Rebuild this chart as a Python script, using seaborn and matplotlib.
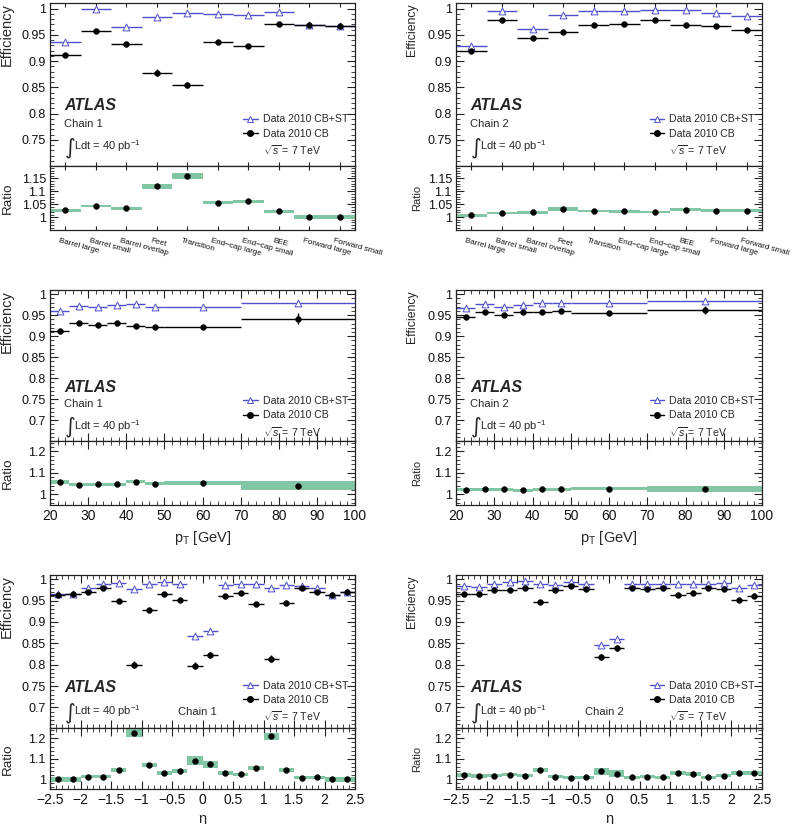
import numpy as np
import matplotlib
matplotlib.use("Agg")
import matplotlib.pyplot as plt
from matplotlib.ticker import MultipleLocator, FuncFormatter, FixedLocator, NullLocator
from matplotlib.lines import Line2D
from matplotlib.transforms import ScaledTranslation
import seaborn as sns

sns.set_theme(style="ticks")
plt.rcParams['font.family'] = ['Liberation Sans', 'DejaVu Sans']
plt.rcParams['mathtext.fontset'] = 'custom'
plt.rcParams['mathtext.rm'] = 'Liberation Sans'
plt.rcParams['mathtext.it'] = 'Liberation Sans:italic'
plt.rcParams['mathtext.bf'] = 'Liberation Sans:bold'

BLUE = "#5050cc"
GREEN = "#82c6a6"

# ---------------- data: detector regions ----------------
regions = ["Barrel large", "Barrel small", "Barrel overlap", "Feet", "Transition",
           "End\u2212cap large", "End\u2212cap small", "BEE", "Forward large", "Forward small"]
reg_pos = [0, 1, 2, 3, 4, 5, 6, 7, 8, 9]
reg_halfw = [0.5] * 10

reg_c1_cb = [0.912, 0.957, 0.932, 0.878, 0.854, 0.936, 0.928, 0.970, 0.968, 0.966]
reg_c1_cb_err = [0.003, 0.002, 0.002, 0.007, 0.006, 0.003, 0.002, 0.004, 0.003, 0.003]
reg_c1_cbst = [0.937, 0.999, 0.964, 0.984, 0.992, 0.990, 0.987, 0.993, 0.968, 0.966]
reg_c1_ratio = [1.027, 1.043, 1.034, 1.119, 1.159, 1.056, 1.062, 1.023, 1.0, 1.0]
reg_c1_band = [0.005, 0.005, 0.006, 0.011, 0.013, 0.005, 0.005, 0.007, 0.007, 0.007]

reg_c2_cb = [0.920, 0.979, 0.944, 0.955, 0.969, 0.970, 0.978, 0.968, 0.967, 0.960]
reg_c2_cb_err = [0.003, 0.002, 0.002, 0.002, 0.002, 0.002, 0.002, 0.003, 0.002, 0.002]
reg_c2_cbst = [0.928, 0.995, 0.961, 0.987, 0.995, 0.995, 0.997, 0.997, 0.991, 0.985]
reg_c2_ratio = [1.008, 1.017, 1.020, 1.032, 1.025, 1.023, 1.020, 1.030, 1.025, 1.026]
reg_c2_band = [0.006, 0.005, 0.006, 0.006, 0.005, 0.005, 0.005, 0.007, 0.006, 0.006]

# ---------------- data: pT ----------------
pt_centers = [22.5, 27.5, 32.5, 37.5, 42.5, 47.5, 60.0, 85.0]
pt_halfw = [2.5, 2.5, 2.5, 2.5, 2.5, 2.5, 10.0, 15.0]

pt_c1_cb = [0.912, 0.932, 0.927, 0.932, 0.924, 0.923, 0.922, 0.942]
pt_c1_cb_err = [0.004, 0.003, 0.003, 0.003, 0.003, 0.003, 0.003, 0.013]
pt_c1_cbst = [0.961, 0.973, 0.969, 0.974, 0.977, 0.969, 0.969, 0.980]
pt_c1_ratio = [1.058, 1.046, 1.047, 1.047, 1.058, 1.050, 1.053, 1.041]
pt_c1_band = [0.011, 0.007, 0.007, 0.007, 0.007, 0.007, 0.008, 0.020]

pt_c2_cb = [0.946, 0.957, 0.950, 0.958, 0.958, 0.959, 0.955, 0.962]
pt_c2_cb_err = [0.003, 0.002, 0.002, 0.002, 0.002, 0.002, 0.002, 0.010]
pt_c2_cbst = [0.966, 0.977, 0.969, 0.974, 0.978, 0.978, 0.978, 0.984]
pt_c2_ratio = [1.022, 1.024, 1.024, 1.019, 1.024, 1.024, 1.027, 1.024]
pt_c2_band = [0.007, 0.006, 0.006, 0.006, 0.006, 0.006, 0.007, 0.014]

# ---------------- data: eta ----------------
eta_centers = [-2.375, -2.125, -1.875, -1.625, -1.375, -1.125, -0.875, -0.625, -0.375, -0.125,
               0.125, 0.375, 0.625, 0.875, 1.125, 1.375, 1.625, 1.875, 2.125, 2.375]
eta_halfw = [0.125] * 20

eta_c1_cb = [0.964, 0.965, 0.970, 0.980, 0.950, 0.800, 0.927, 0.966, 0.952, 0.798,
             0.823, 0.960, 0.969, 0.942, 0.814, 0.945, 0.979, 0.971, 0.964, 0.970]
eta_c1_cb_err = [0.003, 0.003, 0.003, 0.003, 0.003, 0.008, 0.004, 0.003, 0.003, 0.008,
                 0.007, 0.003, 0.003, 0.003, 0.008, 0.003, 0.003, 0.003, 0.003, 0.003]
eta_c1_cbst = [0.965, 0.966, 0.980, 0.990, 0.992, 0.977, 0.989, 0.993, 0.988, 0.868,
               0.879, 0.987, 0.990, 0.988, 0.980, 0.987, 0.984, 0.980, 0.964, 0.970]
eta_c1_ratio = [1.000, 1.000, 1.013, 1.013, 1.045, 1.225, 1.070, 1.030, 1.040, 1.090,
                1.073, 1.030, 1.025, 1.053, 1.210, 1.045, 1.008, 1.010, 1.000, 1.000]
eta_c1_band = [0.013, 0.013, 0.008, 0.008, 0.009, 0.019, 0.009, 0.008, 0.008, 0.022,
               0.017, 0.008, 0.008, 0.010, 0.018, 0.009, 0.008, 0.008, 0.013, 0.013]

eta_c2_cb = [0.966, 0.966, 0.975, 0.974, 0.979, 0.947, 0.974, 0.984, 0.977, 0.817,
             0.839, 0.980, 0.977, 0.980, 0.964, 0.967, 0.980, 0.977, 0.952, 0.960]
eta_c2_cb_err = [0.003, 0.003, 0.003, 0.003, 0.003, 0.004, 0.003, 0.003, 0.003, 0.007,
                 0.006, 0.003, 0.003, 0.003, 0.003, 0.003, 0.003, 0.003, 0.003, 0.003]
eta_c2_cbst = [0.985, 0.983, 0.990, 0.993, 0.996, 0.990, 0.987, 0.993, 0.988, 0.847,
               0.860, 0.989, 0.990, 0.990, 0.989, 0.989, 0.990, 0.991, 0.980, 0.987]
eta_c2_ratio = [1.020, 1.018, 1.017, 1.022, 1.018, 1.047, 1.013, 1.008, 1.010, 1.038,
                1.027, 1.010, 1.013, 1.010, 1.030, 1.025, 1.010, 1.017, 1.032, 1.030]
eta_c2_band = [0.010, 0.010, 0.008, 0.008, 0.008, 0.010, 0.008, 0.008, 0.008, 0.018,
               0.016, 0.008, 0.008, 0.008, 0.010, 0.009, 0.008, 0.008, 0.010, 0.010]

legend_labels = ["Data 2010 CB+ST", "Data 2010 CB", r"$\sqrt{s}$ = 7 TeV"]


def gfmt(v, pos):
    s = f"{v:g}"
    return s.replace("-", "\u2212")


fig = plt.figure(figsize=(7.93, 8.24), dpi=100)
W, H = 793.0, 824.0


def add_axes(x0, x1, ytop, ybot):
    return fig.add_axes([x0 / W, 1 - ybot / H, (x1 - x0) / W, (ybot - ytop) / H])


def style(ax, ymaj, ymin, lsize=9):
    ax.yaxis.set_major_locator(MultipleLocator(ymaj))
    ax.yaxis.set_minor_locator(MultipleLocator(ymin))
    ax.yaxis.set_major_formatter(FuncFormatter(gfmt))
    ax.tick_params(which='both', direction='in', top=True, right=True, labelsize=lsize,
                   color='#222222', labelcolor='#111111')
    ax.tick_params(which='major', length=6, width=0.8, pad=3)
    ax.tick_params(which='minor', length=3, width=0.6)
    for s in ax.spines.values():
        s.set_linewidth(0.9)
        s.set_color('#222222')
    ax.set_facecolor('white')


def draw(ax_e, ax_r, x, hw, cb, cb_err, cbst, ratio, band):
    x = np.asarray(x, float); hw = np.asarray(hw, float)
    ratio = np.asarray(ratio, float); band = np.asarray(band, float)
    ax_e.errorbar(x, cbst, xerr=hw, yerr=0.0015, fmt='none', ecolor=BLUE,
                  elinewidth=1.0, capsize=0, zorder=2)
    sns.scatterplot(x=x, y=cbst, ax=ax_e, marker='^', s=24, facecolor='white',
                    edgecolor=BLUE, linewidth=0.7, zorder=3)
    ax_e.errorbar(x, cb, xerr=hw, yerr=cb_err, fmt='none', ecolor='black',
                  elinewidth=1.0, capsize=0, zorder=4)
    sns.scatterplot(x=x, y=cb, ax=ax_e, marker='o', s=18, color='black',
                    edgecolor='black', linewidth=0.3, zorder=5)
    ax_r.bar(x, 2 * band, bottom=ratio - band, width=2 * hw, color=GREEN,
             edgecolor='none', linewidth=0, zorder=1)
    sns.scatterplot(x=x, y=ratio, ax=ax_r, marker='o', s=18, color='black',
                    edgecolor='black', linewidth=0.3, zorder=5)


def annotate(ax, chain, atlas_xy, chain_xy, int_xy, leg_xy):
    ax.text(atlas_xy[0], atlas_xy[1], "ATLAS", transform=ax.transAxes, fontsize=11.5,
            fontweight='bold', fontstyle='italic', va='center', ha='left')
    ax.text(chain_xy[0], chain_xy[1], chain, transform=ax.transAxes, fontsize=8,
            va='center', ha='left')
    ax.text(int_xy[0], int_xy[1] - 0.01, "\u222b", transform=ax.transAxes, fontsize=15,
            va='center', ha='left', family=['DejaVu Sans'])
    ax.text(int_xy[0] + 0.032, int_xy[1], r"Ldt = 40 pb$^{-1}$", transform=ax.transAxes,
            fontsize=8, va='center', ha='left')
    handles = [Line2D([], [], color=BLUE, lw=1.0, marker='^', markersize=4.5,
                      markerfacecolor='white', markeredgecolor=BLUE, markeredgewidth=0.7),
               Line2D([], [], color='black', lw=1.0, marker='o', markersize=4),
               Line2D([], [], linestyle='none')]
    ax.legend(handles, legend_labels, loc='center left', bbox_to_anchor=leg_xy,
              frameon=False, fontsize=7.6, handlelength=1.4, handletextpad=0.45,
              labelspacing=0.42, borderpad=0, borderaxespad=0)


# layout (pixel coordinates)
LX0, LX1 = 50, 355
RX0, RX1 = 456, 762
rows = [(3.3, 165.7, 230.0), (290.0, 440.7, 505.0), (575.0, 728.3, 789.3)]

# ---------- Row 1: regions ----------
for col, (x0, x1, cb, cbe, cbst, rat, bnd, chain) in enumerate([
        (LX0, LX1, reg_c1_cb, reg_c1_cb_err, reg_c1_cbst, reg_c1_ratio, reg_c1_band, "Chain 1"),
        (RX0, RX1, reg_c2_cb, reg_c2_cb_err, reg_c2_cbst, reg_c2_ratio, reg_c2_band, "Chain 2")]):
    yt, ym, yb = rows[0]
    ae = add_axes(x0, x1, yt, ym)
    ar = add_axes(x0, x1, ym, yb)
    draw(ae, ar, reg_pos, reg_halfw, cb, cbe, cbst, rat, bnd)
    for a in (ae, ar):
        a.set_xlim(-0.5, 9.5)
    ae.set_ylim(0.701, 1.01)
    ar.set_ylim(0.951, 1.199)
    style(ae, 0.05, 0.01)
    style(ar, 0.05, 0.01)
    ae.xaxis.set_major_locator(FixedLocator(reg_pos))
    ae.xaxis.set_minor_locator(NullLocator())
    ae.tick_params(axis='x', which='major', length=3, labelbottom=False)
    ar.xaxis.set_major_locator(FixedLocator(reg_pos))
    ar.xaxis.set_minor_locator(NullLocator())
    ar.tick_params(axis='x', which='major', length=3, pad=5)
    ar.set_xticklabels(regions, rotation=-15, ha='left', rotation_mode='anchor', fontsize=5.8)
    shift = ScaledTranslation(-4 / 72.0, 0, fig.dpi_scale_trans)
    for lbl in ar.get_xticklabels():
        lbl.set_transform(lbl.get_transform() + shift)
    lab = 10.5 if col == 0 else 8.8
    ae.set_ylabel("Efficiency", loc='top', fontsize=lab)
    ar.set_ylabel("Ratio", fontsize=lab - 0.8)
    ae.yaxis.set_label_coords(-0.118 if col == 0 else -0.124, 1.0)
    ar.yaxis.set_label_coords(-0.118 if col == 0 else -0.11, 0.5)
    annotate(ae, chain, (0.048, 0.368), (0.047, 0.257), (0.047, 0.12), (0.633, 0.185))

# ---------- Row 2: pT ----------
for col, (x0, x1, cb, cbe, cbst, rat, bnd, chain) in enumerate([
        (LX0, LX1, pt_c1_cb, pt_c1_cb_err, pt_c1_cbst, pt_c1_ratio, pt_c1_band, "Chain 1"),
        (RX0, RX1, pt_c2_cb, pt_c2_cb_err, pt_c2_cbst, pt_c2_ratio, pt_c2_band, "Chain 2")]):
    yt, ym, yb = rows[1]
    ae = add_axes(x0, x1, yt, ym)
    ar = add_axes(x0, x1, ym, yb)
    draw(ae, ar, pt_centers, pt_halfw, cb, cbe, cbst, rat, bnd)
    for a in (ae, ar):
        a.set_xlim(20, 100)
    ae.set_ylim(0.651, 1.01)
    ar.set_ylim(0.951, 1.249)
    style(ae, 0.05, 0.01)
    style(ar, 0.1, 0.02)
    for a in (ae, ar):
        a.xaxis.set_major_locator(MultipleLocator(10))
        a.xaxis.set_minor_locator(MultipleLocator(2))
        a.xaxis.set_major_formatter(FuncFormatter(gfmt))
    ae.tick_params(axis='x', labelbottom=False)
    ar.tick_params(axis='x', labelsize=10)
    ar.set_xlabel(r"p$_{\rm T}$ [GeV]", fontsize=10.5, labelpad=4)
    lab = 10.5 if col == 0 else 8.8
    ae.set_ylabel("Efficiency", loc='top', fontsize=lab)
    ar.set_ylabel("Ratio", fontsize=lab - 0.8)
    ae.yaxis.set_label_coords(-0.12 if col == 0 else -0.124, 1.0)
    ar.yaxis.set_label_coords(-0.12 if col == 0 else -0.11, 0.5)
    annotate(ae, chain, (0.048, 0.35), (0.047, 0.244), (0.047, 0.1), (0.633, 0.155))

# ---------- Row 3: eta ----------
for col, (x0, x1, cb, cbe, cbst, rat, bnd, chain) in enumerate([
        (LX0, LX1, eta_c1_cb, eta_c1_cb_err, eta_c1_cbst, eta_c1_ratio, eta_c1_band, "Chain 1"),
        (RX0, RX1, eta_c2_cb, eta_c2_cb_err, eta_c2_cbst, eta_c2_ratio, eta_c2_band, "Chain 2")]):
    yt, ym, yb = rows[2]
    ae = add_axes(x0, x1, yt, ym)
    ar = add_axes(x0, x1, ym, yb)
    draw(ae, ar, eta_centers, eta_halfw, cb, cbe, cbst, rat, bnd)
    for a in (ae, ar):
        a.set_xlim(-2.5, 2.5)
    ae.set_ylim(0.651, 1.01)
    ar.set_ylim(0.951, 1.249)
    style(ae, 0.05, 0.01)
    style(ar, 0.1, 0.02)
    for a in (ae, ar):
        a.xaxis.set_major_locator(MultipleLocator(0.5))
        a.xaxis.set_minor_locator(MultipleLocator(0.1))
        a.xaxis.set_major_formatter(FuncFormatter(gfmt))
    ae.tick_params(axis='x', labelbottom=False)
    ar.tick_params(axis='x', labelsize=10)
    ar.set_xlabel("\u03b7", fontsize=10.5, labelpad=3)
    lab = 10.5 if col == 0 else 8.8
    ae.set_ylabel("Efficiency", loc='top', fontsize=lab)
    ar.set_ylabel("Ratio", fontsize=lab - 0.8)
    ae.yaxis.set_label_coords(-0.12 if col == 0 else -0.124, 1.0)
    ar.yaxis.set_label_coords(-0.12 if col == 0 else -0.11, 0.5)
    annotate(ae, chain, (0.048, 0.263), (0.42, 0.108), (0.047, 0.11), (0.633, 0.172))

fig.savefig("out.png", dpi=100, facecolor='white')
